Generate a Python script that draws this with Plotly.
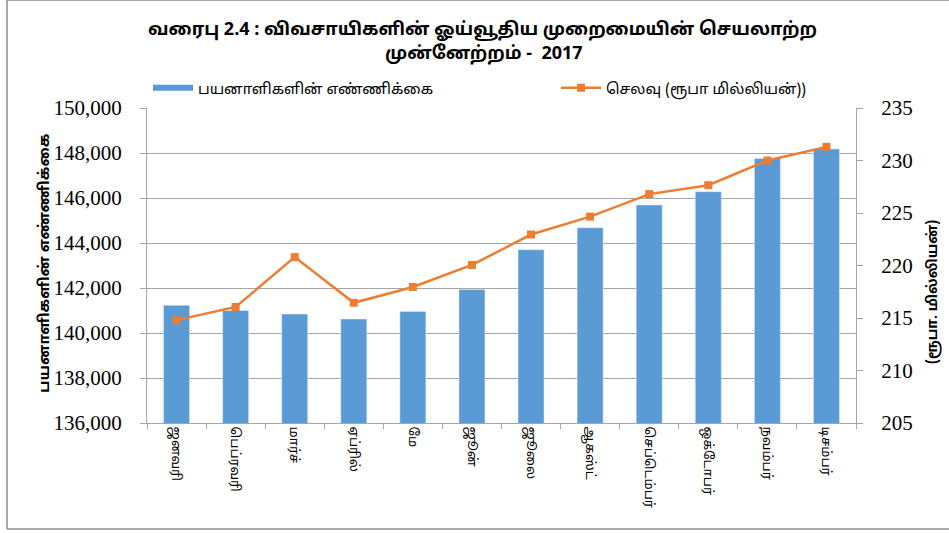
import plotly.graph_objects as go

months = ["ஜனவரி", "பெப்ரவரி", "மார்ச்", "ஏப்ரில்", "மே", "ஜூன்",
          "ஜூலை", "ஆகஸ்ட்", "செப்டெம்பர்", "ஒக்டோபர்", "நவம்பர்", "டிசம்பர்"]
beneficiaries = [141230, 141000, 140840, 140620, 140960, 141930,
                 143700, 144680, 145690, 146280, 147760, 148180]
expenditure = [214.8, 216.05, 220.8, 216.45, 217.95, 220.05,
               222.95, 224.65, 226.8, 227.65, 230.0, 231.3]

bar_name = "பயனாளிகளின் எண்ணிக்கை"
line_name = "செலவு (ரூபா மில்லியன்))"
title_line1 = "வரைபு 2.4 : விவசாயிகளின் ஓய்வூதிய முறைமையின் செயலாற்ற"
title_line2 = "முன்னேற்றம் -  2017"
left_title = "பயனாளிகளின் எண்ணிக்கை"
right_title = "(ரூபா. மில்லியன்)"

BLUE = "#5b9bd5"
ORANGE = "#ed7d31"
GRID = "#a6a6a6"
SANS = "Noto Sans Tamil, Liberation Sans, Noto Sans, DejaVu Sans, sans-serif"
SERIF = "Liberation Serif, DejaVu Serif, serif"

PL, PR, PT, PB = 147, 93, 108, 110
W, H = 949, 533
pw, ph = W - PL - PR, H - PT - PB


def px_x(x):
    return (x - PL) / pw


def px_y(y):
    return (H - PT - y) / ph


fig = go.Figure()
fig.add_trace(go.Bar(x=months, y=beneficiaries, marker_color=BLUE, width=0.44,
                     showlegend=False, name=bar_name, yaxis="y"))
# legend proxy for the bar series (thin wide swatch like the original)
fig.add_trace(go.Scatter(x=[None], y=[None], mode="lines", name=bar_name,
                         line=dict(color=BLUE, width=6), yaxis="y", legend="legend"))
fig.add_trace(go.Scatter(x=months, y=expenditure, mode="lines+markers", name=line_name,
                         line=dict(color=ORANGE, width=2.5),
                         marker=dict(symbol="square", size=8, color=ORANGE),
                         yaxis="y2", legend="legend2"))

leg_y = (H - 88) / H
fig.update_layout(
    width=W, height=H,
    margin=dict(l=PL, r=PR, t=PT, b=PB, autoexpand=False),
    paper_bgcolor="white", plot_bgcolor="white",
    font=dict(family=SANS, color="#000000"),
    showlegend=True,
    legend=dict(orientation="h", x=px_x(148), xanchor="left",
                yref="container", y=leg_y, yanchor="middle",
                font=dict(size=15, family=SANS, color="#000000"),
                bgcolor="rgba(0,0,0,0)", itemwidth=40),
    legend2=dict(orientation="h", x=px_x(556), xanchor="left",
                 yref="container", y=leg_y, yanchor="middle",
                 font=dict(size=15, family=SANS, color="#000000"),
                 bgcolor="rgba(0,0,0,0)", itemwidth=40),
    xaxis=dict(type="category", range=[-0.5, len(months) - 0.5], autorange=False,
               showline=True, linecolor=GRID, linewidth=1,
               ticks="outside", tickson="boundaries", ticklen=5, tickcolor=GRID,
               tickangle=90, tickfont=dict(size=13, family=SANS, color="#000000"),
               showgrid=False, automargin=False),
    yaxis=dict(range=[136000, 150000], dtick=2000, tickformat=",d",
               showline=True, linecolor=GRID, linewidth=1,
               ticks="outside", ticklen=6, tickcolor=GRID, ticklabelstandoff=14,
               showgrid=True, gridcolor=GRID, gridwidth=1, automargin=False,
               tickfont=dict(size=21, family=SERIF, color="#000000")),
    yaxis2=dict(range=[205, 235], dtick=5, overlaying="y", side="right",
                showline=True, linecolor=GRID, linewidth=1,
                ticks="outside", ticklen=6, tickcolor=GRID, ticklabelstandoff=14,
                showgrid=False, automargin=False,
                tickfont=dict(size=21, family=SERIF, color="#000000")),
    annotations=[
        dict(text=title_line1, xref="paper", yref="paper", x=px_x(482),
             y=px_y(32), xanchor="center", yanchor="middle", showarrow=False,
             font=dict(size=18, family=SANS, color="#000000", weight="bold")),
        dict(text=title_line2, xref="paper", yref="paper", x=px_x(484),
             y=px_y(57), xanchor="center", yanchor="middle", showarrow=False,
             font=dict(size=18, family=SANS, color="#000000", weight="bold")),
        dict(text=left_title, xref="paper", yref="paper", x=px_x(45),
             y=px_y(265), xanchor="center", yanchor="middle", showarrow=False,
             textangle=-90,
             font=dict(size=15, family=SANS, color="#000000", weight="bold")),
        dict(text=right_title, xref="paper", yref="paper", x=px_x(933),
             y=px_y(294), xanchor="center", yanchor="middle", showarrow=False,
             textangle=-90,
             font=dict(size=14, family=SANS, color="#000000", weight="bold")),
    ],
)
# outer frame (top, left, bottom) in pixel-derived paper coordinates
left_px, top_px, bottom_px = 7, 2, 531
for x0, y0, x1, y1 in [(px_x(left_px), px_y(top_px), px_x(W), px_y(top_px)),
                       (px_x(left_px), px_y(top_px), px_x(left_px), px_y(bottom_px)),
                       (px_x(left_px), px_y(bottom_px), px_x(W), px_y(bottom_px))]:
    fig.add_shape(type="line", xref="paper", yref="paper", x0=x0, y0=y0, x1=x1, y1=y1,
                  line=dict(color="#8c8c8c", width=1.5))

fig.write_html("out.html", config={"displayModeBar": False},
               post_script="document.body.style.margin='0px';document.body.style.overflow='hidden';")
